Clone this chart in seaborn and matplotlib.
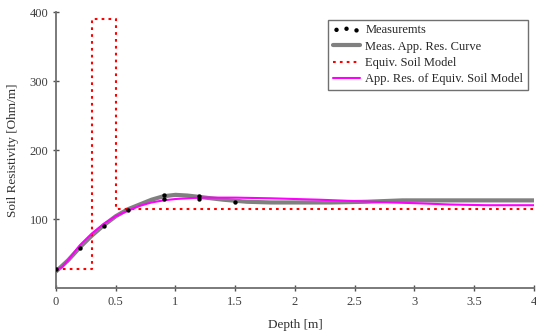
import matplotlib
matplotlib.use("Agg")
import matplotlib.pyplot as plt
import seaborn as sns
import pandas as pd

# Measurements (black dots)
meas_depth = [0.0, 0.2, 0.4, 0.6, 0.9, 0.9, 1.2, 1.2, 1.5]
meas_res = [28, 58, 90, 113, 135, 129, 133, 129, 124]

# Measured apparent resistivity curve (grey)
curve_depth = [0, 0.05, 0.1, 0.2, 0.3, 0.4, 0.5, 0.6, 0.7, 0.8, 0.9, 1.0, 1.1, 1.2,
               1.4, 1.6, 1.8, 2.0, 2.3, 2.6, 2.9, 3.2, 3.6, 4.0]
curve_res = [24, 32, 40, 59, 76, 91, 104, 114, 121, 128, 133, 135, 134, 132,
             128, 125, 124, 124, 124, 125, 127, 127, 127, 127]

# Equivalent soil model (red dotted step)
model_depth = [0.0, 0.3, 0.3, 0.5, 0.5, 4.0]
model_res = [28, 28, 390, 390, 115, 115]

# Apparent resistivity of equivalent soil model (magenta)
eq_depth = [0, 0.05, 0.1, 0.2, 0.3, 0.4, 0.5, 0.6, 0.7, 0.8, 0.9, 1.0, 1.2, 1.5,
            1.8, 2.0, 2.2, 2.5, 2.8, 3.0, 3.3, 3.6, 4.0]
eq_res = [27, 30, 40, 62, 79, 93, 104, 112, 119, 124, 127, 129, 131, 131,
          130, 129, 128, 126, 124, 123, 121, 120, 120]

x_ticks = [0, 0.5, 1, 1.5, 2, 2.5, 3, 3.5, 4]
x_tick_labels = ["0", "0.5", "1", "1.5", "2", "2.5", "3", "3.5", "4"]
y_ticks = [100, 200, 300, 400]

sns.set_style("white")
plt.rcParams['font.family'] = ['Liberation Serif', 'DejaVu Serif']

fig = plt.figure(figsize=(5.36, 3.34), dpi=100)
ax = fig.add_axes([0.1045, 0.1377, 0.8915, 0.8263])

df_curve = pd.DataFrame({"x": curve_depth, "y": curve_res})
df_model = pd.DataFrame({"x": model_depth, "y": model_res})
df_eq = pd.DataFrame({"x": eq_depth, "y": eq_res})
df_meas = pd.DataFrame({"x": meas_depth, "y": meas_res})

sns.lineplot(data=df_curve, x="x", y="y", ax=ax, color="#808080", lw=3,
             estimator=None, sort=False, label="Meas. App. Res. Curve", zorder=2)
sns.lineplot(data=df_model, x="x", y="y", ax=ax, color="#ff0000", lw=1.5,
             linestyle=(0, (1.3, 2.0)), estimator=None, sort=False,
             label="Equiv. Soil Model", zorder=3)
sns.lineplot(data=df_eq, x="x", y="y", ax=ax, color="#ff00ff", lw=1.5,
             estimator=None, sort=False, label="App. Res. of Equiv. Soil Model", zorder=4)
sns.scatterplot(data=df_meas, x="x", y="y", ax=ax, color="black", s=10,
                edgecolor="black", linewidth=0, label="Measuremts", zorder=5)

ax.set_xlim(0, 4)
ax.set_ylim(0, 400)
ax.set_xticks(x_ticks)
ax.set_xticklabels(x_tick_labels)
ax.set_yticks(y_ticks)

for s in ["top", "right"]:
    ax.spines[s].set_visible(False)
for s in ["left", "bottom"]:
    ax.spines[s].set_color("#707070")
    ax.spines[s].set_linewidth(1.3)

ax.tick_params(axis="both", direction="inout", length=5, width=1.0, color="#505050",
               labelsize=9, labelcolor="#404040", pad=3, left=True, bottom=True)

ax.set_xlabel("Depth [m]", fontsize=9.5, color="#303030", labelpad=8)
ax.set_ylabel("Soil Resistivity [Ohm/m]", fontsize=9.5, color="#303030", labelpad=8)

handles, labels = ax.get_legend_handles_labels()
order = ["Measuremts", "Meas. App. Res. Curve", "Equiv. Soil Model",
         "App. Res. of Equiv. Soil Model"]
hmap = dict(zip(labels, handles))
leg = ax.legend([hmap[k] for k in order], order, loc="upper right",
                bbox_to_anchor=(0.987, 0.972), fontsize=9, frameon=True,
                fancybox=False, edgecolor="#707070", framealpha=1,
                handlelength=2.2, handletextpad=0.4, borderpad=0.35,
                labelspacing=0.35, scatterpoints=3, borderaxespad=0)
leg.get_frame().set_linewidth(1.0)

fig.savefig("out.png", dpi=100)
